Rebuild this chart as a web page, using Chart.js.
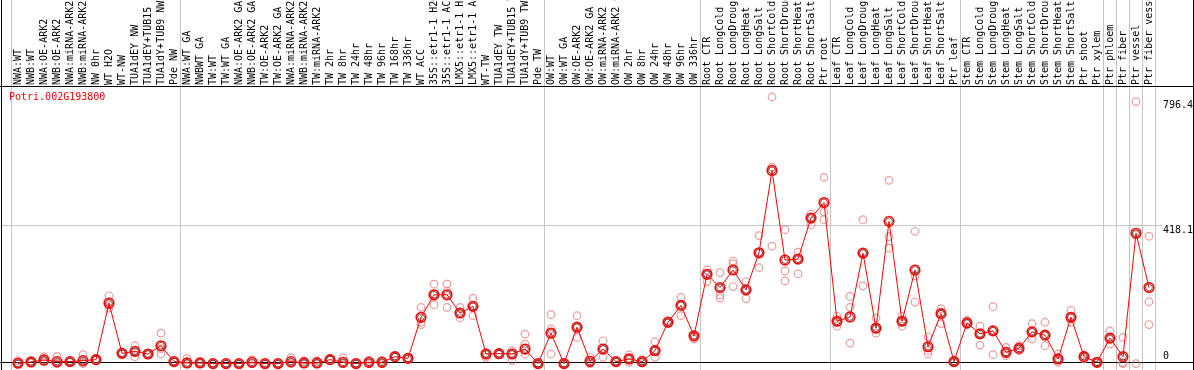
<!DOCTYPE html>
<html>
<head>
<meta charset="utf-8">
<script src="https://cdn.jsdelivr.net/npm/chart.js@4.4.1/dist/chart.umd.min.js"></script>
<style>
  html, body { margin: 0; padding: 0; background: #fff; }
  #wrap { width: 1194px; height: 370px; }
</style>
</head>
<body>
<div id="wrap"><canvas id="chart" width="1194" height="370"></canvas></div>
<script>
// gene shown in the corner of the plot
const geneName = "Potri.002G193800";

// sample names, left to right
const categories = [
  "NWA:WT", "NWB:WT", "NWA:OE-ARK2", "NWB:OE-ARK2", "NWA:miRNA-ARK2", "NWB:miRNA-ARK2",
  "NW 0hr", "WT H2O", "WT-NW", "TUA1dEY NW", "TUA1dEY+TUB15 NW", "TUA1dY+TUB9 NW", "Pde NW",
  "NWA:WT GA", "NWBWT GA", "TW:WT", "TW:WT GA", "NWA:OE-ARK2 GA", "NWB:OE-ARK2 GA",
  "TW:OE-ARK2", "TW:OE-ARK2 GA", "NWA:miRNA-ARK2 GA", "NWB:miRNA-ARK2 GA", "TW:miRNA-ARK2",
  "TW 2hr", "TW 8hr", "TW 24hr", "TW 48hr", "TW 96hr", "TW 168hr", "TW 336hr", "WT ACC",
  "35S::etr1-1 H2O", "35S::etr1-1 ACC", "LMX5::etr1-1 H2O", "LMX5::etr1-1 ACC",
  "WT-TW", "TUA1dEY TW", "TUA1dEY+TUB15 TW", "TUA1dY+TUB9 TW", "Pde TW",
  "OW:WT", "OW:WT GA", "OW:OE-ARK2", "OW:OE-ARK2 GA", "OW:miRNA-ARK2", "OW:miRNA-ARK2 GA",
  "OW 2hr", "OW 8hr", "OW 24hr", "OW 48hr", "OW 96hr", "OW 336hr",
  "Root CTR", "Root LongCold", "Root LongDrought", "Root LongHeat", "Root LongSalt",
  "Root ShortCold", "Root ShortDrought", "Root ShortHeat", "Root ShortSalt", "Ptr root",
  "Leaf CTR", "Leaf LongCold", "Leaf LongDrought", "Leaf LongHeat", "Leaf LongSalt",
  "Leaf ShortCold", "Leaf ShortDrought", "Leaf ShortHeat", "Leaf ShortSalt", "Ptr leaf",
  "Stem CTR", "Stem LongCold", "Stem LongDrought", "Stem LongHeat", "Stem LongSalt",
  "Stem ShortCold", "Stem ShortDrought", "Stem ShortHeat", "Stem ShortSalt",
  "Ptr shoot", "Ptr xylem", "Ptr phloem", "Ptr fiber", "Ptr vessel", "Ptr fiber vessel"
];

// mean expression per sample (red line)
const meanValues = [
  1, 5, 11, 6, 6, 9, 12, 183, 31, 37, 29, 54, 6,
  2, 2, 0, 0, 0, 4, 0, 0, 6, 2, 2, 12, 4, 0, 4, 4, 21, 16, 140,
  208, 208, 153, 173, 29, 30, 29, 44, 0,
  92, 0, 110, 7, 44, 6, 14, 6, 39, 125, 176, 84,
  270, 230, 283, 223, 335, 584, 313, 316, 440, 487,
  128, 141, 334, 107, 430, 128, 283, 51, 151, 6,
  123, 90, 99, 34, 46, 96, 86, 14, 140, 21, 4,
  77, 21, 394, 230
];

// single replicates (pale circles)
const rep1 = [
  9, 5, 21, 21, 6, 27, 12, 205, 31, 54, 29, 92, 6,
  15, 2, 0, 0, 0, 12, 0, 0, 18, 9, 9, 12, 17, 0, 10, 10, 21, 16, 170,
  240, 240, 170, 198, 31, 31, 39, 89, 0,
  148, 0, 145, 19, 69, 6, 26, 11, 66, 130, 200, 84,
  283, 275, 310, 248, 387, 806, 405, 337, 452, 563,
  143, 203, 435, 138, 554, 143, 400, 81, 166, 6,
  131, 113, 172, 49, 54, 121, 125, 29, 161, 14, 4,
  99, 79, 792, 385
];
const rep2 = [
  0, 3, 8, 0, 4, 0, 10, 176, 30, 36, 28, 45, 5,
  0, 1, 0, 0, 0, 0, 0, 0, 0, 0, 0, 11, 0, 0, 2, 2, 20, 15, 125,
  210, 220, 151, 173, 29, 29, 28, 59, 0,
  105, 0, 110, 2, 44, 5, 14, 6, 39, 125, 176, 80,
  270, 208, 302, 223, 335, 594, 280, 316, 440, 459,
  128, 170, 334, 107, 384, 128, 265, 39, 151, 4,
  123, 90, 99, 34, 46, 96, 86, 14, 140, 21, 2,
  73, 0, 390, 187
];
const rep3 = [
  0, 7, 5, 0, 8, 2, 14, 168, 33, 21, 30, 29, 7,
  0, 3, 0, 0, 0, 0, 0, 0, 0, 0, 0, 13, 0, 0, 0, 0, 22, 17, 118,
  178, 170, 138, 145, 19, 28, 9, 29, 0,
  29, 0, 79, 0, 19, 7, 4, 2, 19, 122, 145, 74,
  248, 198, 233, 196, 290, 355, 250, 271, 419, 435,
  113, 62, 235, 92, 349, 113, 186, 29, 121, 8,
  118, 56, 27, 24, 39, 74, 54, 4, 125, 26, 6,
  59, 3, 0, 118
];

const yTicks = [0, 418.1, 796.4];
const yGridLines = [418.1];
const yMax = 836.2;
// index of the first sample of each block (last entry closes the plot)
const groupEdges = [0, 13, 41, 53, 63, 73, 84, 85, 86, 87, 88];

const monoFont = "DejaVu Sans Mono";

const framePlugin = {
  id: "frame",
  beforeDatasetsDraw(chart) {
    const { ctx, scales: { x, y } } = chart;
    ctx.save();
    ctx.fillStyle = "#c4c4c4";
    groupEdges.forEach(k => {
      const px = Math.floor(x.getPixelForValue(k - 0.5));
      ctx.fillRect(px, 0, 1, chart.height);
    });
    yGridLines.forEach(v => {
      const py = Math.floor(y.getPixelForValue(v));
      ctx.fillRect(2, py, 1160, 1);
    });
    ctx.fillStyle = "#000";
    ctx.fillRect(1, 0, 1, chart.height);
    ctx.fillRect(1193, 0, 1, chart.height);
    ctx.fillRect(0, Math.floor(chart.chartArea.top) - 1, chart.width, 1);
    ctx.fillRect(0, Math.floor(chart.chartArea.bottom) - 1, chart.width, 1);
    ctx.restore();
  },
  afterDraw(chart) {
    const { ctx, scales: { y } } = chart;
    ctx.save();
    ctx.font = "10px " + monoFont;
    ctx.textBaseline = "middle";
    ctx.fillStyle = "#ff0000";
    ctx.fillText(geneName, 9, 97);
    ctx.fillStyle = "#000";
    yTicks.forEach(v => {
      const py = y.getPixelForValue(v);
      ctx.fillText(String(v), 1163, v === 0 ? py - 7 : py + 5);
    });
    ctx.restore();
  }
};

const paleRed = "rgba(232, 140, 140, 0.85)";
function repSet(data) {
  return {
    data: data,
    showLine: false,
    pointRadius: 3.8,
    pointBorderWidth: 1.2,
    pointBorderColor: paleRed,
    pointBackgroundColor: "rgba(0,0,0,0)",
    clip: false,
    order: 3
  };
}

new Chart(document.getElementById("chart"), {
  type: "line",
  data: {
    labels: categories,
    datasets: [
      {
        data: meanValues,
        borderColor: "#ff0000",
        borderWidth: 1,
        pointRadius: 4.8,
        pointBorderWidth: 1.6,
        pointBorderColor: "#ff0000",
        pointBackgroundColor: "rgba(0,0,0,0)",
        tension: 0,
        clip: false,
        order: 0
      },
      {
        data: meanValues,
        showLine: false,
        pointRadius: 3.4,
        pointBorderWidth: 0.7,
        pointBorderColor: "#400000",
        pointBackgroundColor: "rgba(0,0,0,0)",
        clip: false,
        order: 1
      },
      repSet(rep1),
      repSet(rep2),
      repSet(rep3)
    ]
  },
  options: {
    responsive: false,
    devicePixelRatio: 1,
    animation: false,
    layout: { padding: { left: 11.5, right: 0, top: 0, bottom: 1 } },
    plugins: { legend: { display: false }, tooltip: { enabled: false } },
    scales: {
      x: {
        type: "category",
        position: "top",
        offset: true,
        grid: { display: false, drawTicks: false },
        border: { display: false },
        ticks: {
          autoSkip: false,
          minRotation: 90,
          maxRotation: 90,
          padding: 2,
          labelOffset: 12,
          color: "#000",
          font: { family: monoFont, size: 10 }
        },
        afterFit(scale) { scale.height = 87; }
      },
      y: {
        position: "right",
        min: 0,
        max: yMax,
        grid: { display: false },
        border: { display: false },
        ticks: { display: false },
        afterBuildTicks(scale) { scale.ticks = yTicks.map(v => ({ value: v })); },
        afterFit(scale) { scale.width = 38.5; }
      }
    }
  },
  plugins: [framePlugin]
});
</script>
</body>
</html>
